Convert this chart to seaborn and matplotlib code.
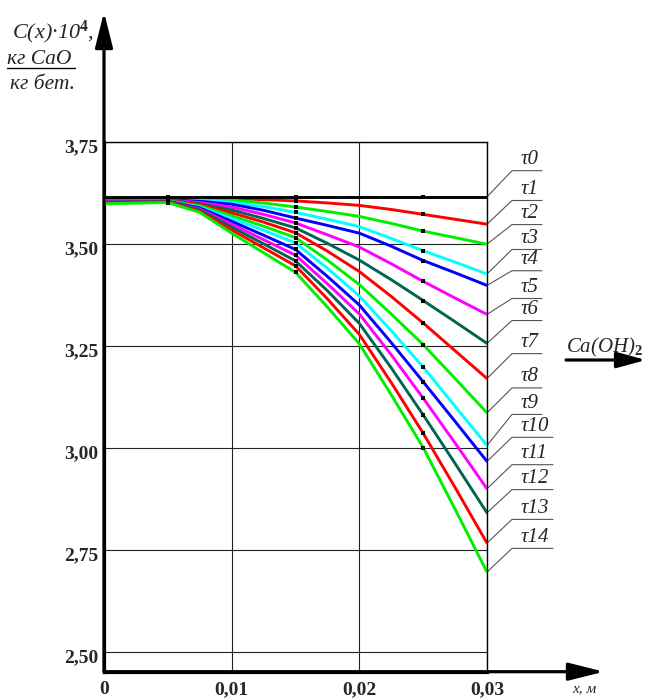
import matplotlib
matplotlib.use("Agg")
import matplotlib.pyplot as plt
import matplotlib.transforms as mtransforms
import numpy as np
import pandas as pd
import seaborn as sns

# ---------------- data ----------------
x_m = [0, 0.005, 0.0075, 0.01, 0.0125, 0.015, 0.0175, 0.02, 0.0225, 0.025, 0.0275, 0.03]
tau_names = ["τ0", "τ1", "τ2", "τ3", "τ4", "τ5", "τ6", "τ7",
             "τ8", "τ9", "τ10", "τ11", "τ12", "τ13", "τ14"]

c_tau0 = [3.615, 3.615, 3.615, 3.615, 3.615, 3.615, 3.615, 3.615, 3.615, 3.615, 3.615, 3.615]
c_tau1 = [3.612, 3.612, 3.612, 3.611, 3.608, 3.605, 3.600, 3.594, 3.584, 3.572, 3.560, 3.548]
c_tau2 = [3.610, 3.610, 3.609, 3.607, 3.600, 3.590, 3.579, 3.567, 3.550, 3.531, 3.515, 3.499]
c_tau3 = [3.614, 3.609, 3.606, 3.602, 3.591, 3.577, 3.560, 3.542, 3.513, 3.483, 3.455, 3.426]
c_tau4 = [3.608, 3.608, 3.604, 3.597, 3.582, 3.563, 3.545, 3.526, 3.494, 3.459, 3.429, 3.398]
c_tau5 = [3.607, 3.607, 3.601, 3.590, 3.572, 3.551, 3.522, 3.492, 3.451, 3.408, 3.367, 3.327]
c_tau6 = [3.606, 3.606, 3.598, 3.583, 3.562, 3.539, 3.501, 3.460, 3.412, 3.361, 3.309, 3.256]
c_tau7 = [3.608, 3.606, 3.596, 3.576, 3.553, 3.527, 3.482, 3.432, 3.371, 3.306, 3.238, 3.170]
c_tau8 = [3.604, 3.605, 3.593, 3.569, 3.543, 3.515, 3.460, 3.400, 3.328, 3.253, 3.170, 3.086]
c_tau9 = [3.604, 3.604, 3.590, 3.562, 3.533, 3.502, 3.440, 3.372, 3.287, 3.198, 3.102, 3.006]
c_tau10 = [3.603, 3.604, 3.588, 3.555, 3.521, 3.486, 3.420, 3.350, 3.258, 3.162, 3.065, 2.967]
c_tau11 = [3.603, 3.603, 3.585, 3.548, 3.510, 3.472, 3.402, 3.328, 3.228, 3.122, 3.012, 2.900]
c_tau12 = [3.602, 3.603, 3.583, 3.541, 3.500, 3.458, 3.385, 3.305, 3.196, 3.081, 2.962, 2.841]
c_tau13 = [3.601, 3.602, 3.580, 3.534, 3.490, 3.446, 3.365, 3.278, 3.160, 3.036, 2.903, 2.767]
c_tau14 = [3.598, 3.601, 3.577, 3.526, 3.478, 3.430, 3.345, 3.255, 3.130, 3.001, 2.850, 2.696]

series_values = [c_tau0, c_tau1, c_tau2, c_tau3, c_tau4, c_tau5, c_tau6, c_tau7,
                 c_tau8, c_tau9, c_tau10, c_tau11, c_tau12, c_tau13, c_tau14]

marker_x = [0.005, 0.015, 0.025]

y_ticks = [2.50, 2.75, 3.00, 3.25, 3.50, 3.75]
y_tick_labels = ["2,50", "2,75", "3,00", "3,25", "3,50", "3,75"]
x_ticks = [0, 0.01, 0.02, 0.03]
x_tick_labels = ["0", "0,01", "0,02", "0,03"]

# ---------------- styles / layout ----------------
RED, GREEN, CYAN, BLUE, MAGENTA, TEAL = "#ff0000", "#00ee00", "#00ffff", "#0000ff", "#ff00ff", "#00664f"
colors = ["#000000", RED, GREEN, CYAN, BLUE, MAGENTA, TEAL, RED, GREEN, CYAN, BLUE, MAGENTA, TEAL, RED, GREEN]
label_anchor_y = [3.679, 3.606, 3.547, 3.486, 3.434, 3.366, 3.312, 3.231,
                  3.147, 3.082, 3.026, 2.959, 2.898, 2.825, 2.754]

sns.set_style("white")
plt.rcParams["font.family"] = ["Liberation Serif", "DejaVu Serif"]
plt.rcParams["mathtext.fontset"] = "custom"
plt.rcParams["mathtext.rm"] = "Liberation Serif"
plt.rcParams["mathtext.it"] = "Liberation Serif:italic"
plt.rcParams["mathtext.bf"] = "Liberation Serif:bold"

W, H = 650, 700
fig = plt.figure(figsize=(W / 100, H / 100), dpi=100)
ax_l, ax_r, ax_t, ax_b = 104, 487, 141.7, 671.7
ax = fig.add_axes([ax_l / W, 1 - ax_b / H, (ax_r - ax_l) / W, (ax_b - ax_t) / H])


def fpx(x, y):
    return (x / W, 1 - y / H)


rows = []
for name, vals in zip(tau_names, series_values):
    for xv, cv in zip(x_m, vals):
        rows.append({"x": xv, "C": cv, "tau": name})
df = pd.DataFrame(rows)

order = tau_names[1:] + tau_names[:1]
for name in order:
    i = tau_names.index(name)
    sub = df[df["tau"] == name]
    sns.lineplot(data=sub, x="x", y="C", color=colors[i], lw=2.1, ax=ax,
                 estimator=None, sort=False, legend=False, zorder=3 if i else 4)

mk = df[df["x"].isin(marker_x)]
sns.scatterplot(data=mk, x="x", y="C", color="black", marker="s", s=10,
                edgecolor="black", linewidth=0, ax=ax, zorder=5, legend=False)

ax.set_xlim(0, 0.03)
ax.set_ylim(2.452, 3.75)
ax.set_xticks(x_ticks)
ax.set_xticklabels(x_tick_labels)
ax.set_yticks(y_ticks)
ax.set_yticklabels(y_tick_labels)
ax.tick_params(length=0, pad=4, labelsize=14)
ax.tick_params(axis="x", pad=7)
shift = mtransforms.ScaledTranslation(0, -4 / 100, fig.dpi_scale_trans)
for lab in ax.get_yticklabels():
    lab.set_fontweight("bold")
    lab.set_transform(lab.get_transform() + shift)
for lab in ax.get_xticklabels():
    lab.set_fontweight("bold")
ax.set_xlabel("")
ax.set_ylabel("")
ax.grid(True, color="#222222", lw=0.8)
for s in ["top", "right"]:
    ax.spines[s].set_linewidth(1.0)
    ax.spines[s].set_color("black")
for s in ["left", "bottom"]:
    ax.spines[s].set_linewidth(2.3)
    ax.spines[s].set_color("black")

# axis arrows
arrow_kw = dict(arrowstyle="-|>,head_length=1.2,head_width=0.3", lw=2.3, color="black",
                mutation_scale=18, shrinkA=0, shrinkB=0)
fig.add_artist(matplotlib.patches.FancyArrowPatch(fpx(ax_l, ax_b), fpx(ax_l, 12),
                                                  transform=fig.transFigure, **arrow_kw))
fig.add_artist(matplotlib.patches.FancyArrowPatch(fpx(ax_l, ax_b), fpx(604, ax_b),
                                                  transform=fig.transFigure, **arrow_kw))

# right-side labels with leader lines
px_per_x = (ax_r - ax_l) / 0.03
for i, name in enumerate(tau_names):
    yend = series_values[i][-1]
    ya = label_anchor_y[i]
    x1 = 0.03 + 25 / px_per_x
    x2 = 0.03 + (55 if len(name) == 2 else 66) / px_per_x
    ax.plot([0.03, x1, x2], [yend, ya, ya], color="#555555", lw=0.8, clip_on=False, zorder=2)
    ax.text(0.03 + 34 / px_per_x, ya + 0.004, name, fontsize=15, fontstyle="italic",
            ha="left", va="bottom", clip_on=False)

# Ca(OH)2 with arrow
fig.text(*fpx(566, 352), r"Ca(OH)$_{\mathbf{2}}$", fontsize=15, fontstyle="italic",
         ha="left", va="baseline")
fig.add_artist(matplotlib.patches.FancyArrowPatch(fpx(566, 360), fpx(646, 360), transform=fig.transFigure,
                                                  arrowstyle="-|>,head_length=1.1,head_width=0.3", lw=2.3,
                                                  color="black", mutation_scale=16, shrinkA=0, shrinkB=0))

# axis titles
fig.text(*fpx(572, 692), "x, м", fontsize=11, fontstyle="italic", ha="left", va="baseline")
fig.text(*fpx(12, 38), r"C(x)·10$^{\mathbf{4}}$,", fontsize=16, fontstyle="italic",
         ha="left", va="baseline")
fig.text(*fpx(7, 64), "кг CaO", fontsize=15.5, fontstyle="italic", ha="left", va="baseline")
fig.add_artist(matplotlib.lines.Line2D([7 / W, 75 / W], [1 - 68 / H, 1 - 68 / H], color="black", lw=1.0))
fig.text(*fpx(10, 89), "кг бет.", fontsize=15.5, fontstyle="italic", ha="left", va="baseline")

fig.savefig("out.png", dpi=100, facecolor="white")
